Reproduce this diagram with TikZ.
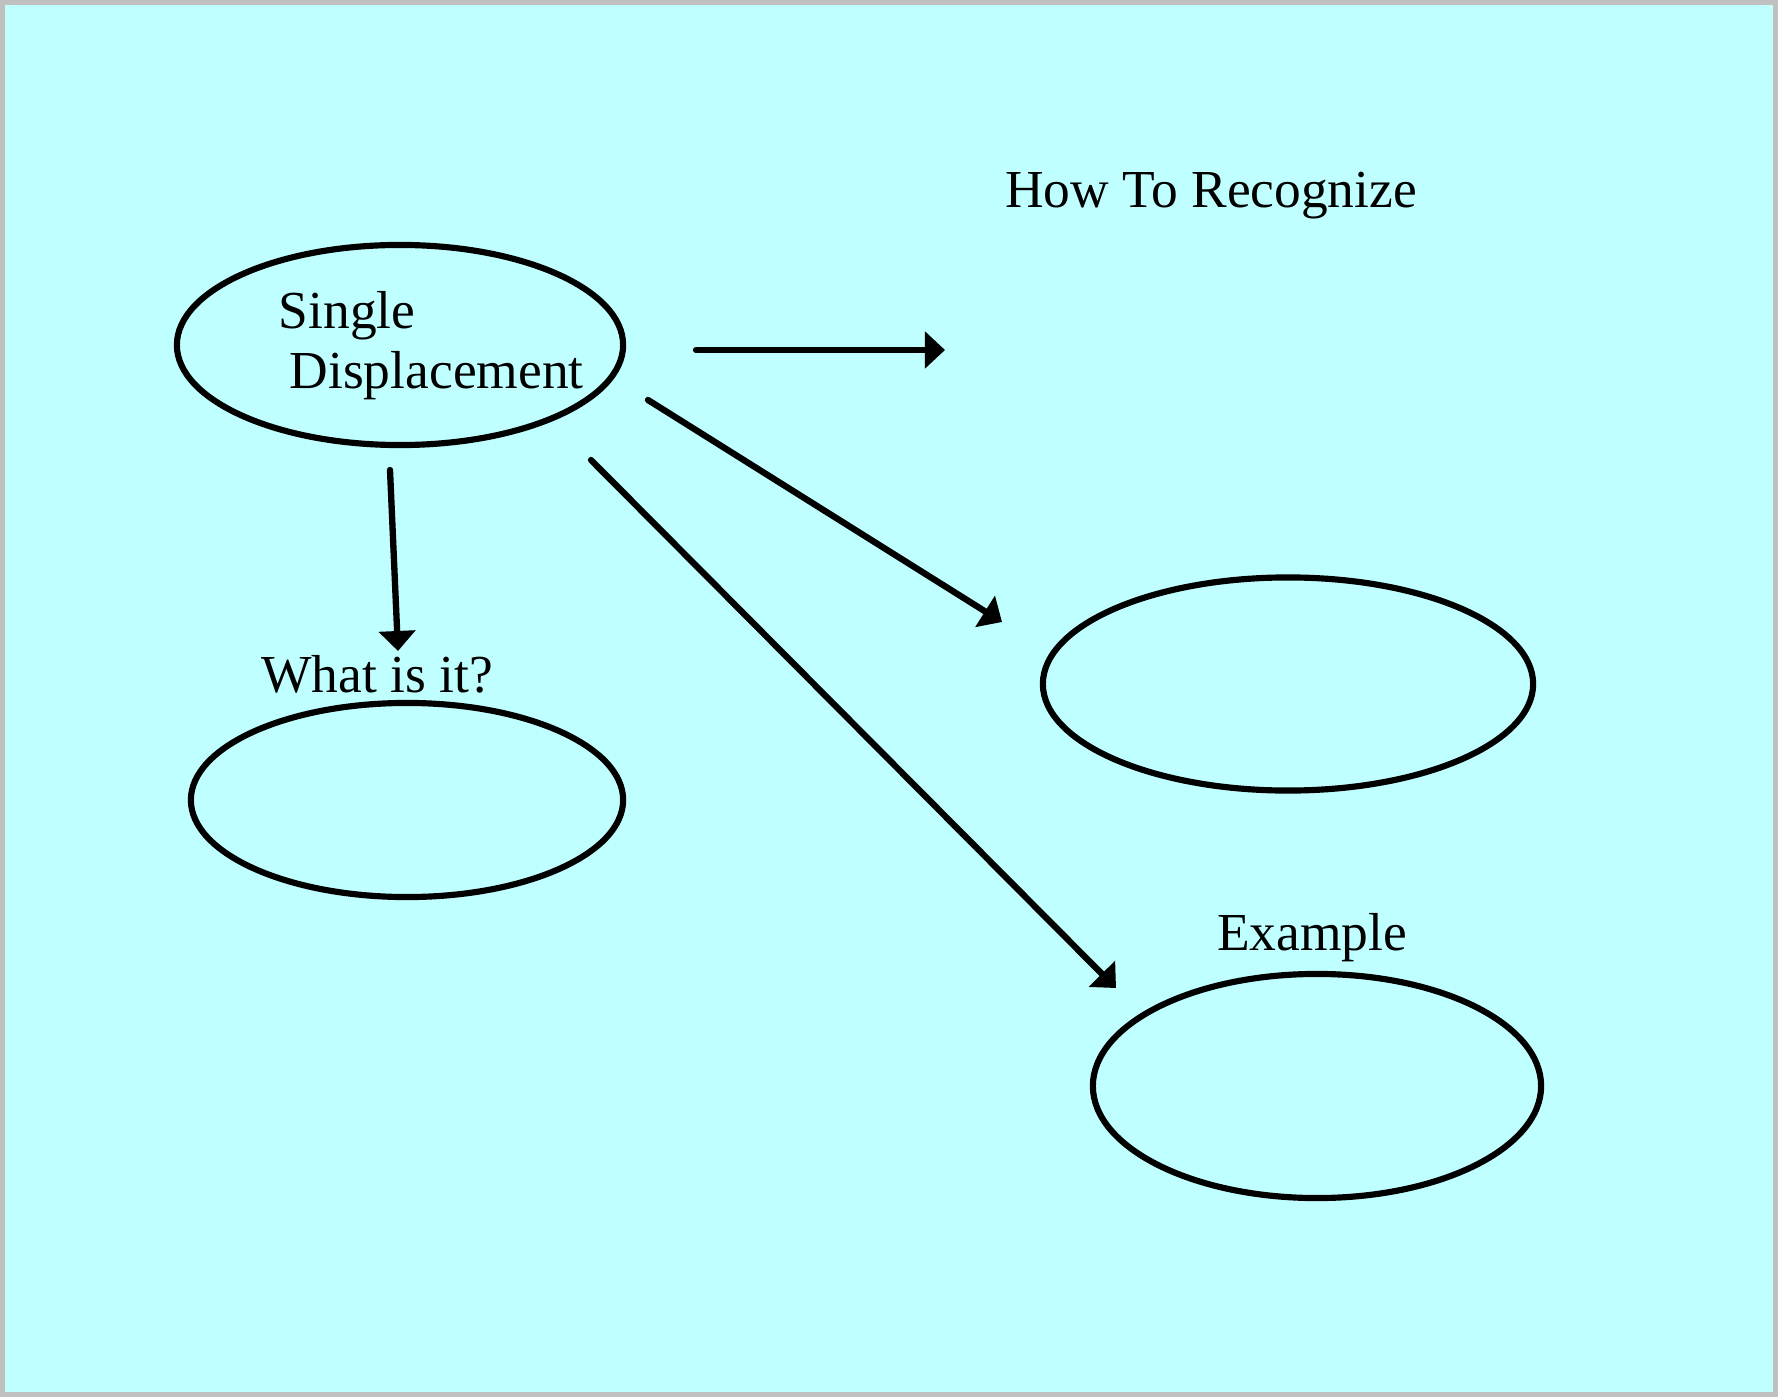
\documentclass[tikz,border=0pt]{standalone}
\usepackage{fontspec}
\setmainfont{Liberation Serif}
\usetikzlibrary{shapes,arrows.meta,positioning}
\definecolor{panelcyan}{HTML}{C0FFFF}
\definecolor{framegray}{HTML}{C0C0C0}

\begin{document}
\begin{tikzpicture}[x=0.01cm, y=-0.01cm,
        every node/.style={font=\fontsize{15.2}{17.5}\selectfont},
        bubble/.style={draw, ellipse, line width=1.75pt, inner sep=0pt},
        lbl/.style={anchor=base, inner sep=0pt},
        arr/.style={line width=1.8pt, line cap=round, -{Triangle[length=0.2cm 0, width=0.36cm 0]}}]
        \useasboundingbox (0,0) rectangle (1778,1397);
        % Panel
        \draw[framegray, line width=0.05cm, fill=panelcyan] (2.5,2.5) rectangle (1775.5,1394.5);

        % Single displacement
        \node[bubble, minimum width=4.46cm, minimum height=2.0cm] (sd) at (400,345) {};
        \node[lbl, anchor=base west] (sdtop) at (278,329) {Single};
        \node[lbl, anchor=base west] (sdbot) at (289,389) {Displacement};

        % What is it?
        \node[lbl] (whatlbl) at (377,692) {What is it?};
        \node[bubble, minimum width=4.32cm, minimum height=1.94cm] (what) at (407,800) {};

        % How to recognize
        \node[lbl] (recoglbl) at (1211,208) {How To Recognize};
        \node[bubble, minimum width=4.9cm, minimum height=2.13cm] (recog) at (1288,684) {};

        % Example
        \node[lbl] (exlbl) at (1312,950) {Example};
        \node[bubble, minimum width=4.48cm, minimum height=2.24cm] (ex) at (1317,1086) {};

        % Arrow ends
        \coordinate (a1s) at (696,350);
        \coordinate (a1e) at (945,350);
        \coordinate (a2s) at (390,470);
        \coordinate (a2e) at (398,651);
        \coordinate (a3s) at (648,400);
        \coordinate (a3e) at (1002,622);
        \coordinate (a4s) at (591,460);
        \coordinate (a4e) at (1116,988);

        % Arrows
        \draw[arr] (a1s) -- (a1e);
        \draw[arr] (a2s) -- (a2e);
        \draw[arr] (a3s) -- (a3e);
        \draw[arr] (a4s) -- (a4e);
    \end{tikzpicture}
\end{document}
